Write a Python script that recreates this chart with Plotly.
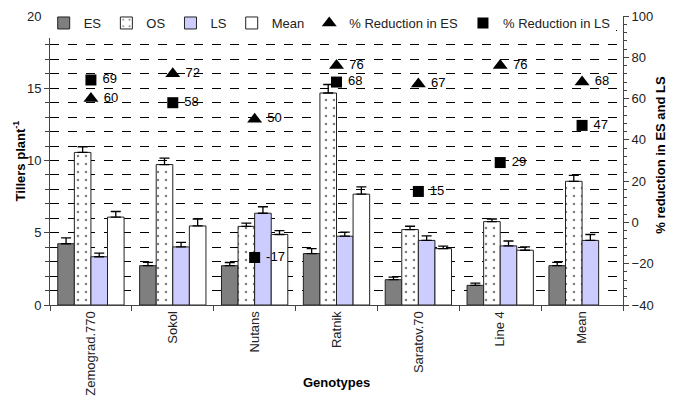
import plotly.graph_objects as go

genotypes = ['Zemograd.770', 'Sokol', 'Nutans', 'Ratnik', 'Saratov.70', 'Line 4', 'Mean']

es = [4.24, 2.72, 2.72, 3.56, 1.75, 1.36, 2.72]
es_err = [0.41, 0.23, 0.22, 0.34, 0.18, 0.16, 0.23]
os_ = [10.56, 9.72, 5.44, 14.67, 5.22, 5.77, 8.56]
os_err = [0.39, 0.45, 0.23, 0.59, 0.23, 0.18, 0.41]
ls = [3.34, 4.02, 6.35, 4.76, 4.47, 4.09, 4.47]
ls_err = [0.25, 0.32, 0.45, 0.29, 0.32, 0.34, 0.41]
mean = [6.08, 5.47, 4.88, 7.67, 3.90, 3.79, None]
mean_err = [0.39, 0.48, 0.27, 0.50, 0.18, 0.23, None]

red_es = [60, 72, 50, 76, 67, 76, 68]
red_ls = [69, 58, -17, 68, 15, 29, 47]

font = 'Arial, Liberation Sans, sans-serif'


def err(vals):
    return dict(type='data', symmetric=False, array=vals,
                arrayminus=[0] * len(vals), color='black',
                thickness=1.3, width=5)


fig = go.Figure()

fig.add_trace(go.Bar(x=genotypes, y=es, name='ES', error_y=err(es_err),
                     marker=dict(color='#7f7f7f', line=dict(color='#222', width=1))))
fig.add_trace(go.Bar(x=genotypes, y=os_, name='OS', error_y=err(os_err),
                     marker=dict(color='white', line=dict(color='#222', width=1),
                                 pattern=dict(shape='.', fgcolor='black', bgcolor='white',
                                              size=8, solidity=0.08))))
fig.add_trace(go.Bar(x=genotypes, y=ls, name='LS', error_y=err(ls_err),
                     marker=dict(color='#ccccff', line=dict(color='#222', width=1))))
fig.add_trace(go.Bar(x=genotypes, y=mean, name='Mean', error_y=err(mean_err),
                     marker=dict(color='white', line=dict(color='#222', width=1))))

fig.add_trace(go.Scatter(x=genotypes, y=red_es, yaxis='y2', name='% Reduction in ES',
                         mode='markers+text', text=[' %d' % v for v in red_es],
                         textposition='middle right',
                         textfont=dict(size=13, color='black', family=font),
                         marker=dict(symbol='triangle-up', size=13, color='black')))
fig.add_trace(go.Scatter(x=genotypes, y=red_ls, yaxis='y2', name='% Reduction in LS',
                         mode='markers+text', text=[' %d' % v for v in red_ls],
                         textposition='middle right',
                         textfont=dict(size=13, color='black', family=font),
                         marker=dict(symbol='square', size=11, color='black')))

# page body adds an 8px offset, so margins are shifted up/left by 8
fig.update_layout(
    width=676, height=400,
    margin=dict(l=42, r=61, t=8, b=103, autoexpand=False),
    paper_bgcolor='white', plot_bgcolor='white',
    font=dict(family=font, size=13, color='#222'),
    barmode='group', bargap=0.19, bargroupgap=0,
    showlegend=True,
    legend=dict(orientation='h', x=-0.011, xanchor='left', y=1.0276, yanchor='top',
                bgcolor='white', font=dict(size=13, family=font, color='#222'),
                traceorder='normal', itemwidth=30),
    xaxis=dict(showline=True, linecolor='#444', linewidth=1, ticks='outside',
               tickson='boundaries', ticklen=5, tickcolor='#444', tickangle=-90,
               showgrid=False, automargin=False),
    yaxis=dict(range=[0, 20], dtick=5, showline=True, linecolor='#444', linewidth=1,
               ticks='outside', ticklen=5, tickcolor='#444', automargin=False,
               ticklabeloverflow='allow',
               showgrid=True, gridcolor='black', griddash='dash', gridwidth=1,
               minor=dict(dtick=1, ticks='outside', ticklen=4, tickcolor='#444',
                          showgrid=True, gridcolor='black', griddash='dash', gridwidth=1),
               zeroline=False),
    yaxis2=dict(range=[-40, 100], dtick=20, overlaying='y', side='right',
                showline=True, linecolor='#444', linewidth=1, ticks='outside',
                ticklen=5, tickcolor='#444', showgrid=False, zeroline=False,
                automargin=False, ticklabeloverflow='allow',
                minor=dict(dtick=4, ticks='outside', ticklen=3, tickcolor='#444')),
    annotations=[
        dict(text='<b>Genotypes</b>', x=0.5, y=-0.3, xref='paper', yref='paper',
             showarrow=False, font=dict(size=13, color='black')),
        dict(text='<b>Tillers plant<sup>-1</sup></b>', x=-0.0716, y=0.5,
             xanchor='left', xref='paper', yref='paper', textangle=-90,
             showarrow=False, font=dict(size=13, color='black')),
        dict(text='<b>% reduction in ES and LS</b>', x=1.083, y=0.52,
             xanchor='right', xref='paper', yref='paper', textangle=-90,
             showarrow=False, font=dict(size=13, color='black')),
    ],
)

fig.write_html('out.html')
